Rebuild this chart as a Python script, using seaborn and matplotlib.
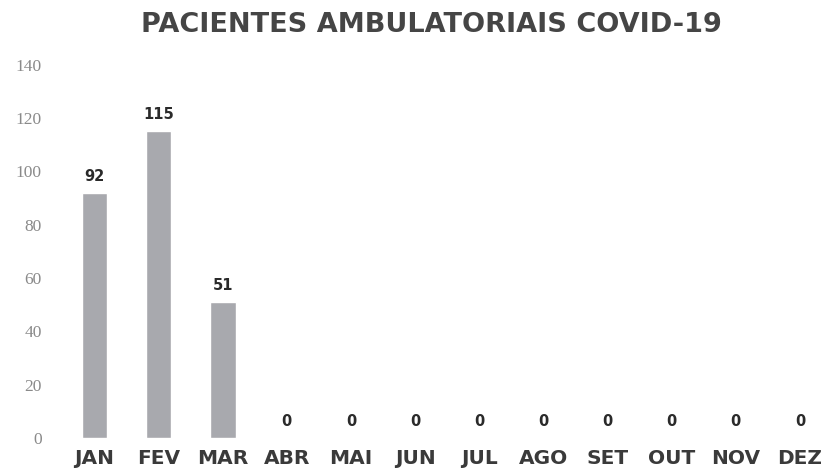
import numpy as np
import pandas as pd
import matplotlib
matplotlib.use("Agg")
import matplotlib.pyplot as plt
import seaborn as sns

meses = ["JAN", "FEV", "MAR", "ABR", "MAI", "JUN", "JUL", "AGO", "SET", "OUT", "NOV", "DEZ"]
pacientes = [92, 115, 51, 0, 0, 0, 0, 0, 0, 0, 0, 0]
y_ticks = [0, 20, 40, 60, 80, 100, 120, 140]
titulo = "PACIENTES AMBULATORIAIS COVID-19"

df = pd.DataFrame({"mes": meses, "pacientes": pacientes})

sns.set_style("white")
plt.rcParams["font.family"] = ["DejaVu Sans"]

fig = plt.figure(figsize=(8.32, 4.73), dpi=100)
ax = fig.add_axes([0.075, 0.074, 0.925, 0.789])

sns.barplot(data=df, x="mes", y="pacientes", color="#a8a9ae", width=0.4,
            saturation=1, ax=ax)

# rótulos de valor acima das barras
for i, v in enumerate(pacientes):
    ax.annotate(str(v), (i, v), xytext=(0, 12), textcoords="offset points",
                ha="center", va="center", fontsize=10.5, fontweight="bold",
                color="#2a2a2a")

ax.set_ylim(0, 140)
ax.set_xlim(-0.5, 11.5)
ax.set_yticks(y_ticks)
ax.set_yticklabels([str(t) for t in y_ticks], fontsize=12.5, color="#8a8a8a",
                   family="Liberation Serif")
ax.set_xticks(range(len(meses)))
ax.set_xticklabels(meses, fontsize=14.5, fontweight="bold", color="#3a3a3a")
ax.tick_params(axis="both", length=0)
ax.tick_params(axis="y", pad=15)
ax.tick_params(axis="x", pad=8)
ax.set_xlabel("")
ax.set_ylabel("")
sns.despine(ax=ax, left=True, bottom=True)

fig.text(0.518, 0.948, titulo, ha="center", va="center", fontsize=19.5,
         fontweight="bold", color="#454545")

fig.savefig("out.png", dpi=100)
